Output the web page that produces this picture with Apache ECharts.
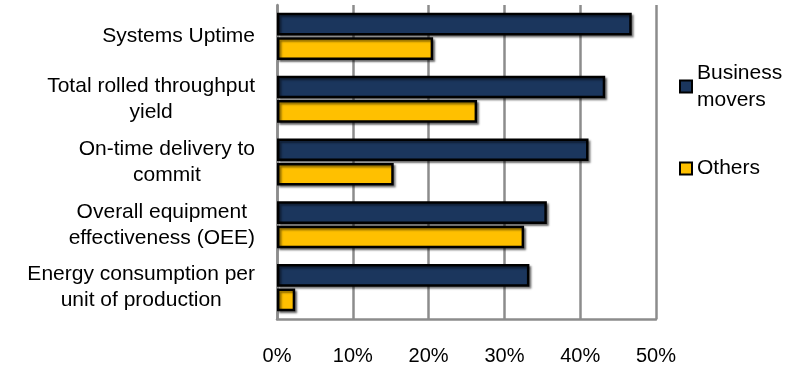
<!DOCTYPE html>
<html>
<head>
<meta charset="utf-8">
<script src="https://cdn.jsdelivr.net/npm/echarts@6/dist/echarts.min.js"></script>
<style>
  html, body { margin: 0; padding: 0; background: #fff; }
  #chart { width: 789px; height: 368px; }
</style>
</head>
<body>
<div id="chart"></div>
<script>
// data (percent)
var categories = [
    'Systems Uptime',
    'Total rolled throughput\nyield',
    'On-time delivery to\ncommit',
    'Overall equipment\neffectiveness (OEE)',
    'Energy consumption per\nunit of production'
];
var businessMovers = [46.8, 43.3, 41.1, 35.6, 33.3];
var others = [20.6, 26.4, 15.4, 32.6, 2.4];
var xTicks = [0, 10, 20, 30, 40, 50];

var font = '"Liberation Sans", Arial, sans-serif';
var gridColor = '#8c8c8c';

var chart = echarts.init(document.getElementById('chart'));

var barShadow = {
    borderColor: '#000',
    borderWidth: 2.5,
    shadowColor: 'rgba(0,0,0,0.45)',
    shadowBlur: 2,
    shadowOffsetX: 2,
    shadowOffsetY: 2
};

option = {
    backgroundColor: '#fff',
    animation: false,
    grid: {
        left: 277,
        right: 133,
        top: 5,
        bottom: 49
    },
    legend: [
        {
            orient: 'vertical',
            left: 679,
            top: 46,
            padding: 0,
            icon: 'rect',
            itemWidth: 12,
            itemHeight: 12,
            data: [{
                name: 'Business movers',
                textStyle: {padding: [27, 0, 0, 0]}
            }],
            formatter: function () { return 'Business\nmovers'; },
            textStyle: {fontFamily: font, fontSize: 21, color: '#000', lineHeight: 27}
        },
        {
            orient: 'vertical',
            left: 679,
            top: 155,
            padding: 0,
            icon: 'rect',
            itemWidth: 12,
            itemHeight: 12,
            data: ['Others'],
            textStyle: {fontFamily: font, fontSize: 21, color: '#000', lineHeight: 27}
        }
    ],
    xAxis: {
        type: 'value',
        min: xTicks[0],
        max: xTicks[xTicks.length - 1],
        interval: 10,
        axisLine: {show: true, lineStyle: {color: gridColor, width: 2.5}},
        axisTick: {show: false},
        splitLine: {show: true, lineStyle: {color: gridColor, width: 2.5}},
        axisLabel: {
            formatter: '{value}%',
            margin: 27,
            fontFamily: font,
            fontSize: 20,
            color: '#000'
        }
    },
    yAxis: {
        type: 'category',
        inverse: true,
        data: categories,
        axisLine: {show: true, lineStyle: {color: gridColor, width: 2.5}},
        axisTick: {show: false},
        axisLabel: {
            margin: 22,
            color: '#000',
            fontFamily: font,
            fontSize: 21,
            lineHeight: 26,
            formatter: function (val) {
                return val.split('\n').map(function (l) { return '{c|' + l + '}'; }).join('\n');
            },
            rich: {
                c: {align: 'center', fontFamily: font, fontSize: 21, lineHeight: 26, color: '#000'}
            }
        }
    },
    series: [
        {
            name: 'Business movers',
            type: 'bar',
            data: businessMovers,
            barCategoryGap: '25%',
            barGap: '8%',
            itemStyle: Object.assign({color: '#1b365d'}, barShadow)
        },
        {
            name: 'Others',
            type: 'bar',
            data: others,
            barCategoryGap: '25%',
            barGap: '8%',
            itemStyle: Object.assign({color: '#ffc000'}, barShadow)
        }
    ]
};
chart.setOption(option);
window.onresize = function () {
    chart.resize();
};
</script>
</body>
</html>
